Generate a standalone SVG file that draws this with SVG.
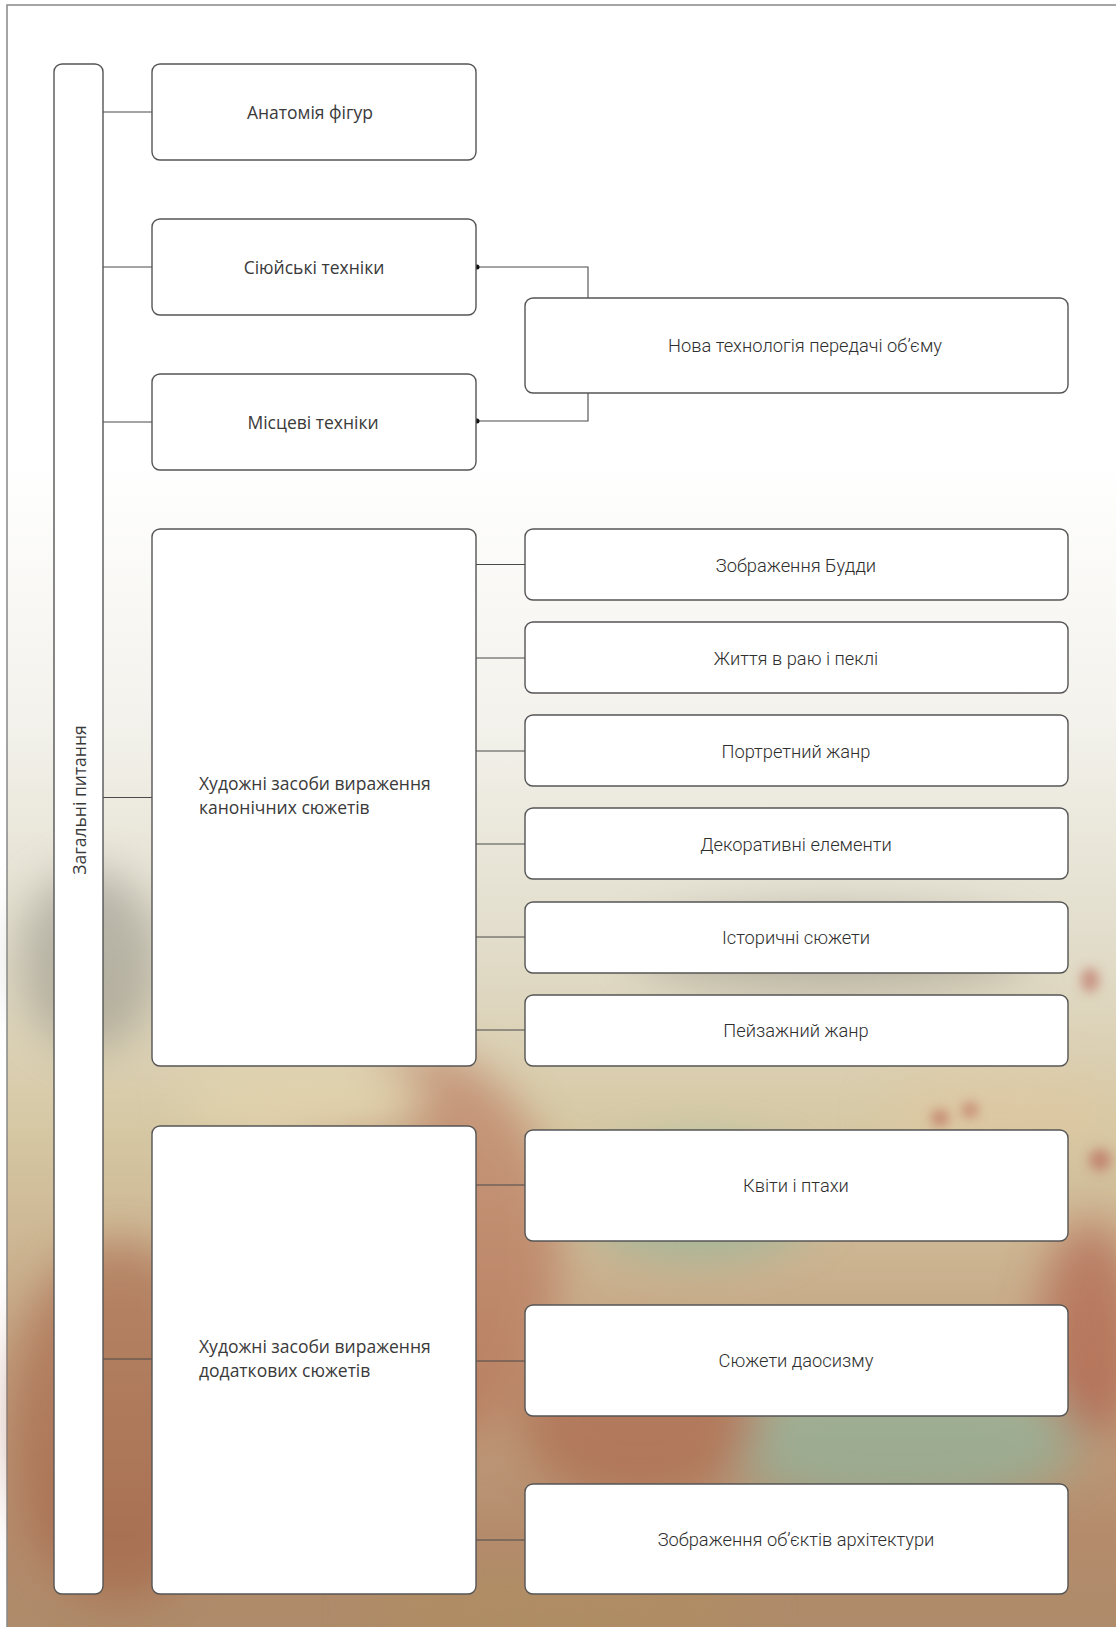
<svg xmlns="http://www.w3.org/2000/svg" width="1116" height="1627" viewBox="0 0 1116 1627">
<defs>
<linearGradient id="bg" x1="0" y1="0" x2="0" y2="1">
<stop offset="0" stop-color="#ffffff"/>
<stop offset="0.27" stop-color="#ffffff"/>
<stop offset="0.42" stop-color="#f3f2ec"/>
<stop offset="0.55" stop-color="#e2ddcb"/>
<stop offset="0.66" stop-color="#d6c8a4"/>
<stop offset="0.78" stop-color="#c6a886"/>
<stop offset="0.9" stop-color="#b48c6c"/>
<stop offset="1" stop-color="#a98a68"/>
</linearGradient>
<filter id="blur" x="-50%" y="-50%" width="200%" height="200%"><feGaussianBlur stdDeviation="22"/></filter>
<filter id="blur2" x="-50%" y="-50%" width="200%" height="200%"><feGaussianBlur stdDeviation="6"/></filter>
<style>
.box{fill:#ffffff;stroke:#555;stroke-width:1.4}
.con{fill:none;stroke:#4a4a4a;stroke-width:1.1}
.lt{font-family:"Open Sans","Noto Sans",sans-serif;font-size:17.5px;fill:#3a3a3a}
.rt{font-family:Roboto,"Noto Sans",sans-serif;font-size:18.3px;font-weight:300;fill:#2e2e2e}
.c{text-anchor:middle;dominant-baseline:central}
</style>
</defs>
<g id="background">
<rect x="0" y="0" width="1116" height="1627" fill="#fff"/>
<rect x="7" y="5" width="1200" height="1700" fill="url(#bg)" stroke="#888" stroke-width="1.5"/>
<g filter="url(#blur)" opacity="0.5">
<ellipse cx="90" cy="960" rx="70" ry="90" fill="#8c8a80"/>
<ellipse cx="830" cy="950" rx="200" ry="40" fill="#8e8b80"/>
<ellipse cx="420" cy="1250" rx="140" ry="200" fill="#b4644c"/>
<ellipse cx="120" cy="1420" rx="110" ry="180" fill="#a0583e"/>
<ellipse cx="700" cy="1200" rx="120" ry="60" fill="#7fb8a0"/>
<ellipse cx="900" cy="1440" rx="180" ry="70" fill="#7fc0aa"/>
<ellipse cx="1090" cy="1330" rx="50" ry="110" fill="#a84a38"/>
<ellipse cx="640" cy="1420" rx="120" ry="80" fill="#a85a40"/>
<ellipse cx="1000" cy="1110" rx="120" ry="40" fill="#e2c8a0"/>
<ellipse cx="300" cy="1100" rx="120" ry="40" fill="#e8d8b0"/>
<ellipse cx="560" cy="1610" rx="200" ry="30" fill="#b0905c"/>
</g>
<g filter="url(#blur2)" opacity="0.5">
<ellipse cx="940" cy="1118" rx="9" ry="9" fill="#b04a40"/>
<ellipse cx="970" cy="1110" rx="8" ry="8" fill="#b04a40"/>
<ellipse cx="1100" cy="1160" rx="11" ry="11" fill="#b04a40"/>
<ellipse cx="1090" cy="980" rx="9" ry="12" fill="#b04a40"/>
</g>
</g>
<g id="connectors">
<path class="con" d="M103 112H152M103 267H152M103 422H152M103 797.5H152M103 1359H152"/>
<path class="con" d="M476 267H588V298M476 421H588V393"/>
<path class="con" d="M476 564.5H525M476 658H525M476 751H525M476 844H525M476 937H525M476 1030H525"/>
<path class="con" d="M476 1185H525M476 1361H525M476 1540H525"/>
<circle cx="477" cy="267" r="2.5" fill="#111"/>
<circle cx="477" cy="421" r="2.5" fill="#111"/>
</g>
<g id="n-general"><rect class="box" x="54" y="64" width="49" height="1530" rx="8"/><text class="lt c" transform="translate(79 800) rotate(-90)">Загальні питання</text></g>
<g id="n-anatomy"><rect class="box" x="152" y="64" width="324" height="96" rx="8"/><text class="lt c" x="310" y="112">Анатомія фігур</text></g>
<g id="n-siyu"><rect class="box" x="152" y="219" width="324" height="96" rx="8"/><text class="lt c" x="314" y="267">Сіюйські техніки</text></g>
<g id="n-local"><rect class="box" x="152" y="374" width="324" height="96" rx="8"/><text class="lt c" x="313" y="422">Місцеві техніки</text></g>
<g id="n-volume"><rect class="box" x="525" y="298" width="543" height="95" rx="8"/><text class="rt c" x="805" y="345">Нова технологія передачі об’єму</text></g>
<g id="n-canon"><rect class="box" x="152" y="529" width="324" height="537" rx="8"/><text class="lt" x="199" y="790">Художні засоби вираження</text><text class="lt" x="199" y="814">канонічних сюжетів</text></g>
<g id="n-buddha"><rect class="box" x="525" y="529" width="543" height="71" rx="8"/><text class="rt c" x="796" y="565">Зображення Будди</text></g>
<g id="n-life"><rect class="box" x="525" y="622" width="543" height="71" rx="8"/><text class="rt c" x="796" y="658">Життя в раю і пеклі</text></g>
<g id="n-portrait"><rect class="box" x="525" y="715" width="543" height="71" rx="8"/><text class="rt c" x="796" y="751">Портретний жанр</text></g>
<g id="n-decor"><rect class="box" x="525" y="808" width="543" height="71" rx="8"/><text class="rt c" x="796" y="844">Декоративні елементи</text></g>
<g id="n-history"><rect class="box" x="525" y="902" width="543" height="71" rx="8"/><text class="rt c" x="796" y="937">Історичні сюжети</text></g>
<g id="n-landscape"><rect class="box" x="525" y="995" width="543" height="71" rx="8"/><text class="rt c" x="796" y="1030">Пейзажний жанр</text></g>
<g id="n-additional"><rect class="box" x="152" y="1126" width="324" height="468" rx="8"/><text class="lt" x="199" y="1353">Художні засоби вираження</text><text class="lt" x="199" y="1377">додаткових сюжетів</text></g>
<g id="n-flowers"><rect class="box" x="525" y="1130" width="543" height="111" rx="8"/><text class="rt c" x="796" y="1185">Квіти і птахи</text></g>
<g id="n-taoism"><rect class="box" x="525" y="1305" width="543" height="111" rx="8"/><text class="rt c" x="796" y="1360">Сюжети даосизму</text></g>
<g id="n-architecture"><rect class="box" x="525" y="1484" width="543" height="110" rx="8"/><text class="rt c" x="796" y="1539">Зображення об’єктів архітектури</text></g>
</svg>
